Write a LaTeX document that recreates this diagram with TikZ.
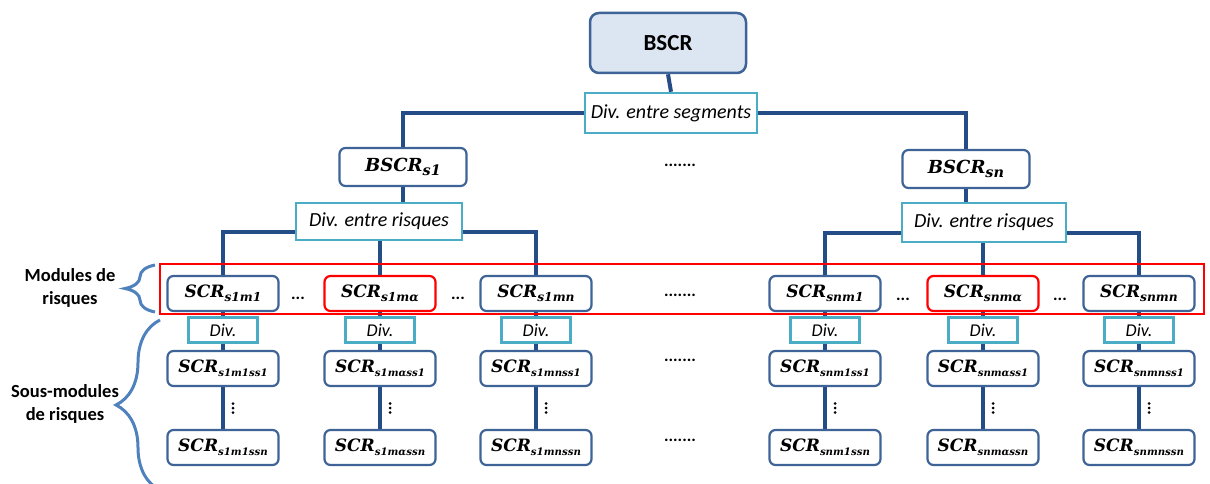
\documentclass[tikz,border=0pt]{standalone}
\usepackage{fontspec}
\usepackage{graphicx}
\setmainfont{Carlito}
\newfontfamily\scrfont{DejaVu Serif}
\usetikzlibrary{decorations.pathreplacing,backgrounds}
\definecolor{boxblue}{HTML}{3E6396}
\definecolor{lineblue}{HTML}{244C86}
\definecolor{topfill}{HTML}{DCE6F2}
\definecolor{divcyan}{HTML}{4BACC6}
\definecolor{braceblue}{HTML}{4F81BD}
\newcommand{\scrlab}[3]{{\scrfont\bfseries\itshape #1\raisebox{-0.4ex}{\scalebox{#3}{#2}}}}
\begin{document}
\begin{tikzpicture}[x=1pt,y=-1pt,
  topbox/.style={draw=boxblue, fill=topfill, line width=2.5pt, rounded corners=9pt, minimum width=156pt, minimum height=60pt, inner sep=0pt, font=\fontsize{23}{26}\selectfont\bfseries},
  segbox/.style={draw=boxblue, fill=white, line width=2.2pt, rounded corners=6pt, inner sep=0pt, minimum width=127pt, minimum height=38pt, font=\fontsize{18}{20}\selectfont},
  modbox/.style={draw=boxblue, fill=white, line width=2.2pt, rounded corners=6pt, inner sep=0pt, minimum width=111pt, minimum height=35pt, font=\fontsize{17}{19}\selectfont},
  redbox/.style={modbox, draw=red},
  divbox/.style={draw=divcyan, fill=white, line width=2.5pt, inner sep=0pt, font=\fontsize{20}{22}\selectfont\itshape},
  smalldiv/.style={divbox, minimum width=69pt, minimum height=25pt, font=\fontsize{18}{20}\selectfont\itshape},
  conn/.style={draw=lineblue, line width=4pt},
  dotsnode/.style={font=\fontsize{17}{18}\selectfont\bfseries, inner sep=0pt, anchor=base},
  lbl/.style={font=\fontsize{18.5}{23}\selectfont\bfseries, align=center},
  brc/.style={draw=braceblue, line width=3pt, decorate}
]
\useasboundingbox (0,0) rectangle (1210,484);

% top levels
\node[topbox] (bscr) at (668,43) {BSCR};
\node[divbox, minimum width=172pt, minimum height=40pt] (segdiv) at (671,113) {Div. entre segments};
\node[segbox] (b1) at (403,167) {\scrlab{BSCR}{s1}{0.8}};
\node[segbox] (bn) at (966,169) {\scrlab{BSCR}{sn}{0.8}};
\node[divbox, minimum width=166pt, minimum height=37pt] (rdiv1) at (379,221.5) {Div. entre risques};
\node[divbox, minimum width=164pt, minimum height=39pt] (rdivn) at (984,222.5) {Div. entre risques};

% columns
\foreach \i/\x/\st/\lab in {1/223/modbox/s1m1, 2/380/redbox/s1mα, 3/536/modbox/s1mn, 4/825/modbox/snm1, 5/983/redbox/snmα, 6/1139/modbox/snmn}{
  \node[\st] (m\i) at (\x,293.5) {\scrlab{SCR}{\lab}{0.72}};
  \node[smalldiv] (d\i) at (\x,330) {Div.};
  \node[modbox] (s\i) at (\x,368.5) {\scrlab{SCR}{\lab ss1}{0.6}};
  \node[modbox] (n\i) at (\x,447.5) {\scrlab{SCR}{\lab ssn}{0.6}};
  \foreach \k in {0,1,2}{
    \fill ([xshift=10pt]\x,{403.5+4.5*\k}) circle (1.5pt);
  }
}

% dots
\node[dotsnode] (e1) at (298,299) {...};
\node[dotsnode] (e2) at (458,299) {...};
\node[dotsnode] (e3) at (903,300) {...};
\node[dotsnode] (e4) at (1060,300) {...};
\node[dotsnode] (g1) at (680,166) {.......};
\node[dotsnode] (g2) at (680,296) {.......};
\node[dotsnode] (g3) at (680,361) {.......};
\node[dotsnode] (g4) at (680,441) {.......};

% red frame
\draw[red, line width=2.5pt] (160,264) rectangle (1204,314);

% labels and braces
\node[lbl] (lm) at (70,288) {Modules de\\risques};
\node[lbl] (ls) at (65,404) {Sous-modules\\de risques};
\draw[brc, decoration={brace, amplitude=30pt}] (155,312) -- (155,265);
\draw[brc, decoration={brace, amplitude=44pt}] (160,490) -- (160,320);

\begin{pgfonlayer}{background}
  \draw[conn] (bscr.south) -- (segdiv.north);
  \draw[conn] (segdiv.west) -| (b1.north);
  \draw[conn] (segdiv.east) -| (bn.north);
  \draw[conn] (b1.south) -- (b1.south |- rdiv1.north);
  \draw[conn] (bn.south) -- (bn.south |- rdivn.north);
  \draw[conn] (m1.north) |- ([yshift=-10pt]rdiv1.west);
  \draw[conn] (m3.north) |- ([yshift=-10pt]rdiv1.east);
  \draw[conn] (m2.north) -- (m2.north |- rdiv1.south);
  \draw[conn] (m4.north) |- ([yshift=-10pt]rdivn.west);
  \draw[conn] (m6.north) |- ([yshift=-10pt]rdivn.east);
  \draw[conn] (m5.north) -- (m5.north |- rdivn.south);
  \foreach \i in {1,...,6}{
    \draw[conn] (m\i.south) -- (d\i.north);
    \draw[conn] (d\i.south) -- (s\i.north);
    \draw[conn] (s\i.south) -- (n\i.north);
  }
\end{pgfonlayer}
\end{tikzpicture}
\end{document}
